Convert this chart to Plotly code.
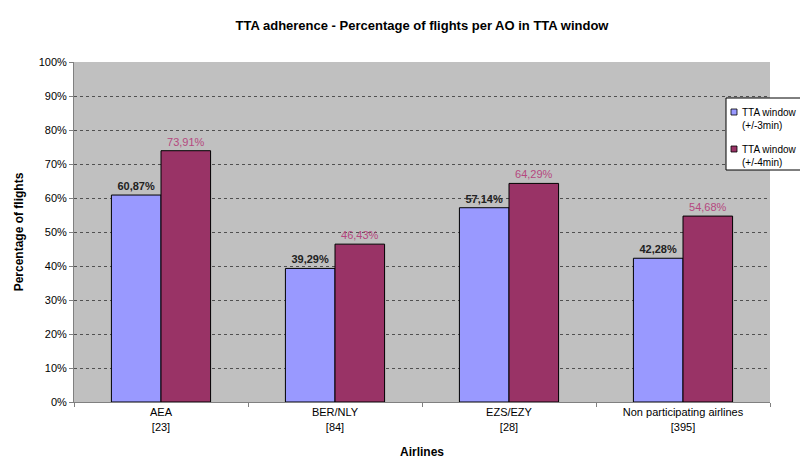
import plotly.graph_objects as go

# Airline groups (with flight counts) and share of flights within each TTA window
airlines = ["AEA<br>[23]", "BER/NLY<br>[84]", "EZS/EZY<br>[28]", "Non participating airlines<br>[395]"]
window_3min = [60.87, 39.29, 57.14, 42.28]
window_4min = [73.91, 46.43, 64.29, 54.68]
series_names = ["TTA window<br>(+/-3min)", "TTA window<br>(+/-4min)"]
series_colors = ["#9999ff", "#993366"]
y_ticks = list(range(0, 101, 10))

W, H = 800, 461
M_L, M_R, M_T, M_B = 74, 30, 62, 59
PW, PH = W - M_L - M_R, H - M_T - M_B


def px_x(px):
    return (px - M_L) / PW


def px_y(py):
    return (H - M_B - py) / PH


def pct_label(v):
    return f"{v:.2f}%".replace(".", ",")


fig = go.Figure()
fig.add_trace(go.Bar(
    x=airlines, y=window_3min, name=series_names[0], showlegend=False,
    marker=dict(color=series_colors[0], line=dict(color="#000000", width=1)),
    text=[f"<b>{pct_label(v)}</b>" for v in window_3min], textposition="outside",
    textfont=dict(family="Arial", size=11, color="#222222"),
    cliponaxis=False,
))
fig.add_trace(go.Bar(
    x=airlines, y=window_4min, name=series_names[1], showlegend=False,
    marker=dict(color=series_colors[1], line=dict(color="#000000", width=1)),
    text=[pct_label(v) for v in window_4min], textposition="outside",
    textfont=dict(family="Arial", size=11, color="#b5487f"),
    cliponaxis=False,
))

# Compact legend box drawn as shapes + annotations, overlapping the right of the plot
shapes = [dict(
    type="rect", xref="paper", yref="paper", layer="above",
    x0=px_x(726), x1=px_x(830), y0=px_y(170), y1=px_y(98),
    fillcolor="white", line=dict(color="#000000", width=1),
)]
annotations = []
for i, (name, color) in enumerate(zip(series_names, series_colors)):
    cy = 112 + i * 37
    shapes.append(dict(
        type="rect", xref="paper", yref="paper", layer="above",
        x0=px_x(731), x1=px_x(737), y0=px_y(cy + 3), y1=px_y(cy - 3),
        fillcolor=color, line=dict(color="#000000", width=0.8),
    ))
    annotations.append(dict(
        xref="paper", yref="paper", x=px_x(740), y=px_y(cy - 7),
        xanchor="left", yanchor="top", align="left", showarrow=False,
        text=name, font=dict(family="Arial", size=10, color="#000000"),
    ))

fig.update_layout(
    width=W, height=H,
    margin=dict(l=M_L, r=M_R, t=M_T, b=M_B, autoexpand=False),
    paper_bgcolor="white",
    plot_bgcolor="#c0c0c0",
    barmode="group",
    bargap=0.43,
    bargroupgap=0,
    font=dict(family="Arial", size=11, color="#000000"),
    title=dict(
        text="<b>TTA adherence - Percentage of flights per AO in TTA window</b>",
        x=0.5, xref="paper", y=0.944, yanchor="middle",
        font=dict(family="Arial", size=13, color="#000000"),
    ),
    showlegend=False,
    shapes=shapes,
    annotations=annotations,
)

fig.update_xaxes(
    showline=True, linecolor="#808080", linewidth=1,
    ticks="outside", ticklen=4, tickcolor="#808080",
    tickson="boundaries",
    tickfont=dict(family="Arial", size=11, color="#000000"),
    title=dict(text="<b>Airlines</b>", font=dict(family="Arial", size=12), standoff=16),
    showgrid=False,
)
fig.update_yaxes(
    range=[0, 100],
    tickvals=y_ticks, ticktext=[f"{v}%" for v in y_ticks],
    showline=True, linecolor="#808080", linewidth=1,
    ticks="outside", ticklen=4, tickcolor="#808080",
    tickfont=dict(family="Arial", size=11, color="#000000"),
    showgrid=True, gridcolor="#505050", gridwidth=1, griddash="dot",
    zeroline=False,
    title=dict(text="<b>Percentage of flights</b>", font=dict(family="Arial", size=12), standoff=12),
)

fig.write_html("out.html")
